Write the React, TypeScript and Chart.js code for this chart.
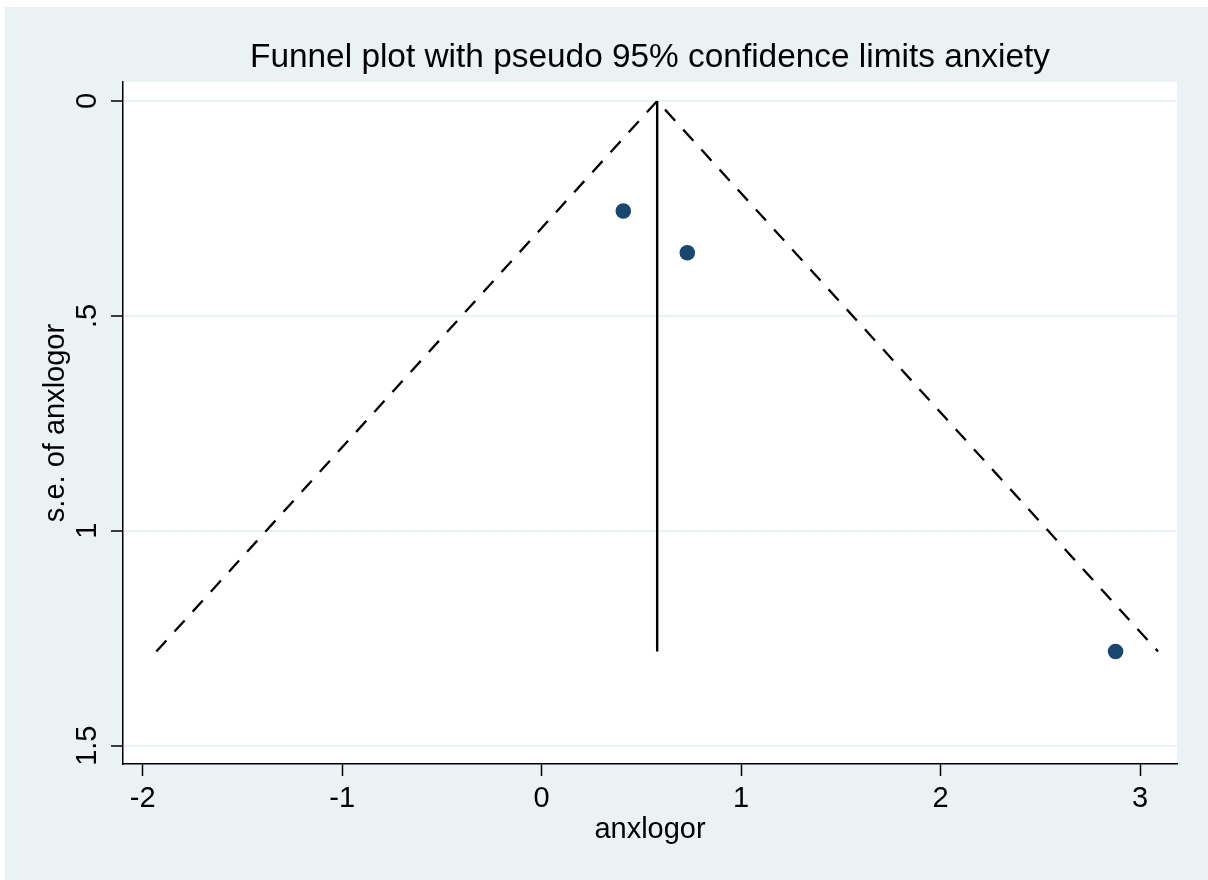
import React, { useEffect, useRef } from "react";
import { Chart, registerables } from "chart.js";

Chart.register(...registerables);

// ---- Data ----
const studyLogOR = [0.409, 0.73, 2.877];
const studySE = [0.256, 0.353, 1.281];
const pooledLogOR = [0.579, 0.579];
const pooledSE = [0, 1.281];
const funnelX = [-1.932, 0.579, 3.09];
const funnelSE = [1.281, 0, 1.281];
const xTicks = [-2, -1, 0, 1, 2, 3];
const xTickLabels = ["-2", "-1", "0", "1", "2", "3"];
const yTicks = [0, 0.5, 1, 1.5];
const yTickLabels = ["0", ".5", "1", "1.5"];

const titleText = "Funnel plot with pseudo 95% confidence limits anxiety";
const xTitle = "anxlogor";
const yTitle = "s.e. of anxlogor";

const FONT = "'Liberation Sans', Arial, sans-serif";
const BG = "#EAF2F3";
const NAVY = "#1A476F";

const backgroundPlugin = {
  id: "stataBackground",
  beforeDraw(chart: any) {
    const { ctx, width, height, chartArea } = chart;
    ctx.save();
    ctx.fillStyle = "#FFFFFF";
    ctx.fillRect(0, 0, width, height);
    ctx.fillStyle = BG;
    ctx.fillRect(5, 7, width - 5, height - 7);
    ctx.fillStyle = "#FFFFFF";
    ctx.fillRect(
      chartArea.left,
      chartArea.top,
      chartArea.right - chartArea.left,
      chartArea.bottom - chartArea.top
    );
    ctx.restore();
  },
};

export default function App() {
  const canvasRef = useRef<HTMLCanvasElement | null>(null);

  useEffect(() => {
    if (!canvasRef.current) return;
    const chart = new Chart(canvasRef.current, {
      type: "scatter",
      data: {
        datasets: [
          {
            label: "studies",
            data: studyLogOR.map((x, i) => ({ x, y: studySE[i] })),
            backgroundColor: NAVY,
            borderColor: NAVY,
            borderWidth: 0,
            pointRadius: 7.8,
            pointHoverRadius: 7.8,
            showLine: false,
          },
          {
            label: "pooled",
            data: pooledLogOR.map((x, i) => ({ x, y: pooledSE[i] })),
            borderColor: "#000000",
            borderWidth: 2.4,
            pointRadius: 0,
            showLine: true,
            tension: 0,
          },
          {
            label: "limits",
            data: funnelX.map((x, i) => ({ x, y: funnelSE[i] })),
            borderColor: "#000000",
            borderWidth: 2.3,
            borderDash: [15, 12],
            pointRadius: 0,
            showLine: true,
            tension: 0,
          },
        ],
      },
      options: {
        responsive: false,
        animation: false,
        devicePixelRatio: 1,
        events: [],
        layout: { padding: { left: 0, right: 31, top: 0, bottom: 0 } },
        plugins: {
          legend: { display: false },
          tooltip: { enabled: false },
          title: {
            display: true,
            text: titleText,
            fullSize: false,
            color: "#000",
            font: { family: FONT, size: 33.4, weight: "normal", lineHeight: 1.2 },
            padding: { top: 38, bottom: 3.92 },
          },
        },
        scales: {
          x: {
            type: "linear",
            position: "bottom",
            min: -2.099,
            max: 3.185,
            afterBuildTicks: (scale: any) => {
              scale.ticks = xTicks.map((v) => ({ value: v }));
            },
            afterFit: (scale: any) => {
              scale.height = 116;
            },
            ticks: {
              autoSkip: false,
              maxRotation: 0,
              minRotation: 0,
              padding: 6,
              color: "#000",
              font: { family: FONT, size: 29 },
              callback: (value: any) => xTickLabels[xTicks.indexOf(Number(value))],
            },
            grid: {
              drawOnChartArea: false,
              drawTicks: true,
              tickLength: 12,
              tickColor: "#000",
              tickWidth: 1.5,
            },
            border: { display: true, color: "#000", width: 1.5 },
            title: {
              display: true,
              text: xTitle,
              color: "#000",
              font: { family: FONT, size: 29, lineHeight: 1.2 },
              padding: { top: 0, bottom: 32.6 },
            },
          },
          y: {
            type: "linear",
            position: "left",
            reverse: true,
            min: -0.0442,
            max: 1.5426,
            afterBuildTicks: (scale: any) => {
              scale.ticks = yTicks.map((v) => ({ value: v }));
            },
            afterFit: (scale: any) => {
              scale.width = 123;
            },
            ticks: {
              autoSkip: false,
              minRotation: 90,
              maxRotation: 90,
              crossAlign: "center",
              padding: 3,
              color: "#000",
              font: { family: FONT, size: 29 },
              callback: (value: any) => yTickLabels[yTicks.indexOf(Number(value))],
            },
            grid: {
              drawOnChartArea: true,
              color: BG,
              lineWidth: 2,
              drawTicks: true,
              tickLength: 12,
              tickColor: "#000",
              tickWidth: 1.5,
            },
            border: { display: true, color: "#000", width: 1.5 },
            title: {
              display: true,
              text: yTitle,
              color: "#000",
              font: { family: FONT, size: 29, lineHeight: 1.2 },
              padding: { top: 39, bottom: 0 },
            },
          },
        },
      },
      plugins: [backgroundPlugin],
    } as any);
    return () => chart.destroy();
  }, []);

  return (
    <div style={{ position: "absolute", left: 0, top: 0, width: 1208, height: 880 }}>
      <canvas ref={canvasRef} width={1208} height={880} style={{ display: "block", width: 1208, height: 880 }} />
    </div>
  );
}
